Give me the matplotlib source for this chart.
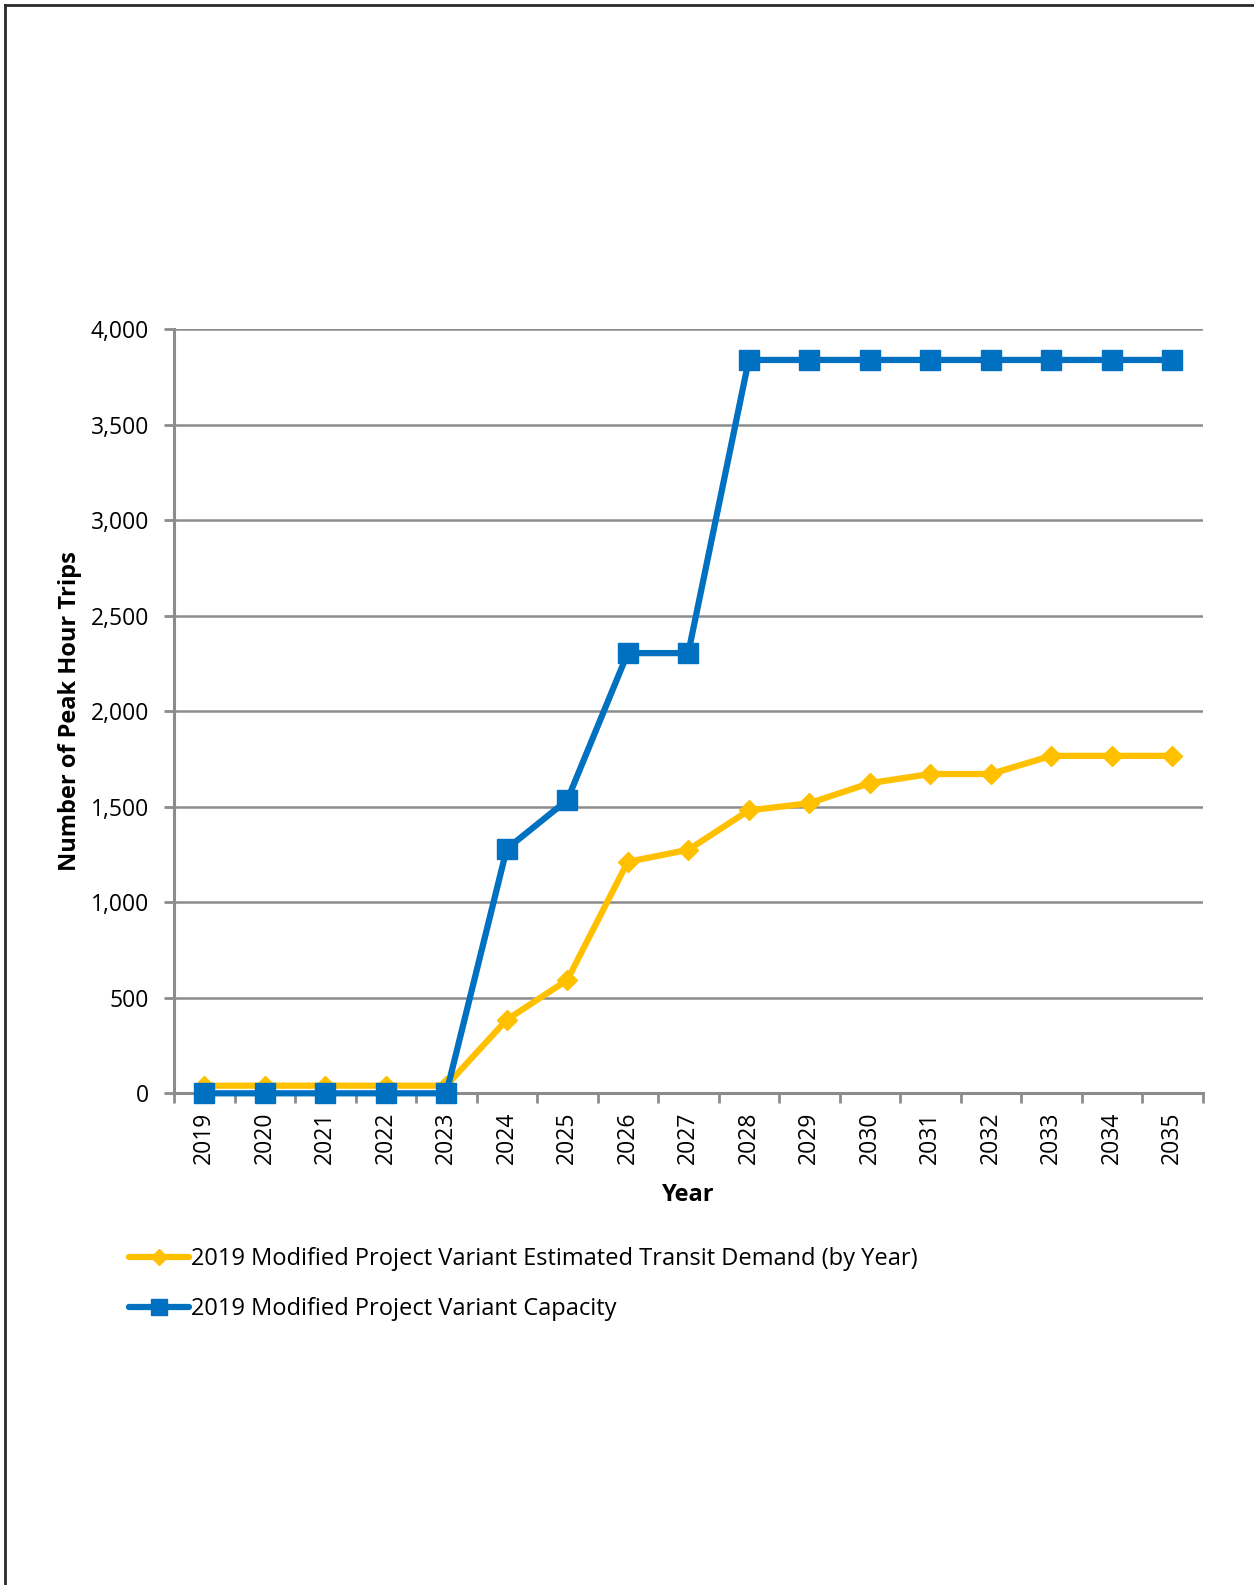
import matplotlib
matplotlib.use("Agg")
import matplotlib.pyplot as plt
from matplotlib.lines import Line2D

plt.rcParams['font.family'] = ['Open Sans', 'DejaVu Sans']

years = [str(y) for y in range(2019, 2036)]
demand = [40, 40, 40, 40, 40, 385, 593, 1212, 1275, 1481, 1519, 1624, 1672, 1672, 1767, 1767, 1767]
capacity = [0, 0, 0, 0, 0, 1280, 1535, 2305, 2305, 3840, 3840, 3840, 3840, 3840, 3840, 3840, 3840]
series_names = ["2019 Modified Project Variant Estimated Transit Demand (by Year)",
                "2019 Modified Project Variant Capacity"]
y_ticks = [0, 500, 1000, 1500, 2000, 2500, 3000, 3500, 4000]

YELLOW = "#FFC000"
BLUE = "#0070C0"
GRID = "#8c8c8c"

W, H = 1254, 1585
fig = plt.figure(figsize=(W / 100, H / 100), dpi=100)
ax = fig.add_axes([174 / W, 1 - 1093.3 / H, (1202.5 - 174) / W, (1093.3 - 329.4) / H])

x = list(range(len(years)))
ax.plot(x, demand, color=YELLOW, lw=4.5, marker="D", ms=10, mec=YELLOW, mfc=YELLOW,
        zorder=3, label=series_names[0], clip_on=False, solid_capstyle="round")
ax.plot(x, capacity, color=BLUE, lw=4.5, marker="s", ms=14, mec=BLUE, mfc=BLUE,
        zorder=4, label=series_names[1], clip_on=False, solid_capstyle="round")

ax.set_xlim(-0.5, len(years) - 0.5)
ax.set_ylim(0, 4000)
ax.set_yticks(y_ticks)
ax.set_yticklabels([f"{v:,}" for v in y_ticks], fontsize=16.5)
ax.set_xticks(x)
ax.set_xticklabels(years, rotation=90, fontsize=16.5)
ax.tick_params(axis="x", length=0, pad=13)
ax.set_xticks([i - 0.5 for i in range(len(years) + 1)], minor=True)
ax.tick_params(axis="x", which="minor", length=7, width=2, color=GRID, direction="out")
ax.tick_params(axis="y", length=7, width=2, color=GRID, direction="out", pad=11)

ax.grid(axis="y", color=GRID, lw=1.8, zorder=0)
ax.set_axisbelow(True)
for side in ("top", "right"):
    ax.spines[side].set_visible(False)
for side in ("left", "bottom"):
    ax.spines[side].set_color(GRID)
    ax.spines[side].set_linewidth(2.2)

ax.set_xlabel("Year", fontsize=17, fontweight="bold", labelpad=14)
ax.set_ylabel("Number of Peak Hour Trips", fontsize=17, fontweight="bold", labelpad=6)

handles, labels = ax.get_legend_handles_labels()
leg = fig.legend(handles, labels, loc="upper left",
                 bbox_to_anchor=(108 / W, 1 - 1226 / H), frameon=False,
                 fontsize=17, handlelength=2.55, handletextpad=0.05,
                 labelspacing=1.1, numpoints=1, markerscale=0.85)

# page frame lines along the top and left edges
fig.add_artist(Line2D([5 / W, 1], [1 - 5 / H, 1 - 5 / H], color="#2a2a2a", lw=2))
fig.add_artist(Line2D([5 / W, 5 / W], [0, 1 - 5 / H], color="#2a2a2a", lw=2))

fig.savefig("out.png", dpi=100, facecolor="white")
